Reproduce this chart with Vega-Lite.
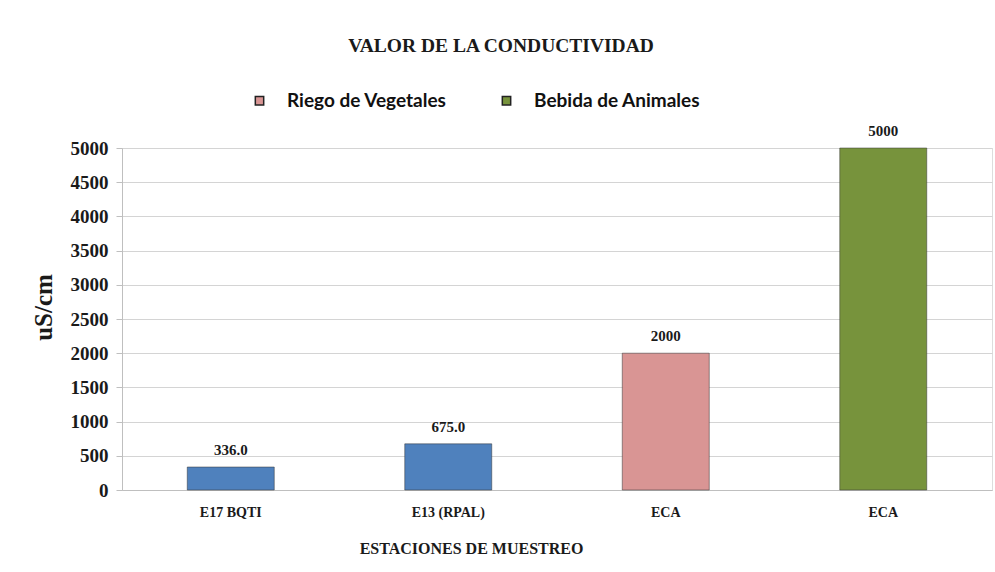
{
  "$schema": "https://vega.github.io/schema/vega-lite/v6.json",
  "width": 870,
  "height": 342,
  "autosize": {"type": "none"},
  "padding": {"left": 122, "top": 148, "right": 3, "bottom": 82},
  "background": "white",
  "title": {
    "text": "VALOR DE  LA CONDUCTIVIDAD",
    "font": "Liberation Serif",
    "fontSize": 19.5,
    "fontWeight": "bold",
    "color": "#1a1a1a",
    "anchor": "middle",
    "dx": -56,
    "offset": 35
  },
  "data": {
    "values": [
      {"estacion": "E17 BQTI", "valor": 336, "etiqueta": "336.0", "tipo": "Estación"},
      {"estacion": "E13 (RPAL)", "valor": 675, "etiqueta": "675.0", "tipo": "Estación"},
      {"estacion": "ECA (Riego)", "valor": 2000, "etiqueta": "2000", "tipo": "Riego de Vegetales"},
      {"estacion": "ECA (Bebida)", "valor": 5000, "etiqueta": "5000", "tipo": "Bebida de Animales"}
    ]
  },
  "encoding": {
    "x": {
      "field": "estacion",
      "type": "nominal",
      "sort": null,
      "scale": {"paddingInner": 0.6, "paddingOuter": 0.3},
      "axis": {
        "title": "ESTACIONES DE MUESTREO",
        "titleFont": "Liberation Serif",
        "titleFontSize": 16,
        "titleFontWeight": "bold",
        "titleColor": "#1a1a1a",
        "titleX": 349,
        "titleY": 58,
        "titleAlign": "center",
        "titleBaseline": "middle",
        "labelExpr": "indexof(datum.value, 'ECA') == 0 ? 'ECA' : datum.value",
        "labelAngle": 0,
        "labelFont": "Liberation Serif",
        "labelFontSize": 14,
        "labelFontWeight": "bold",
        "labelColor": "#1a1a1a",
        "labelPadding": 15,
        "ticks": false,
        "domainColor": "#bfbfbf",
        "grid": false
      }
    },
    "y": {
      "field": "valor",
      "type": "quantitative",
      "scale": {"domain": [0, 5000], "nice": false},
      "axis": {
        "title": "uS/cm",
        "titleFont": "Liberation Serif",
        "titleFontSize": 25,
        "titleFontWeight": "bold",
        "titleColor": "#1a1a1a",
        "titleAngle": -90,
        "titleX": -79,
        "titleY": 159,
        "titleAlign": "center",
        "titleBaseline": "middle",
        "values": [0, 500, 1000, 1500, 2000, 2500, 3000, 3500, 4000, 4500, 5000],
        "format": "d",
        "labelFont": "Liberation Serif",
        "labelFontSize": 19,
        "labelFontWeight": "bold",
        "labelColor": "#1a1a1a",
        "labelPadding": 8,
        "tickSize": 6,
        "tickColor": "#bfbfbf",
        "domainColor": "#bfbfbf",
        "grid": true,
        "gridColor": "#d4d4d4",
        "gridWidth": 1.2
      }
    }
  },
  "layer": [
    {
      "mark": {"type": "bar", "stroke": "#333333", "strokeOpacity": 0.5, "strokeWidth": 1},
      "encoding": {
        "color": {
          "field": "tipo",
          "type": "nominal",
          "scale": {
            "domain": ["Estación", "Riego de Vegetales", "Bebida de Animales"],
            "range": ["#4F81BD", "#D99594", "#77933C"]
          },
          "legend": {
            "values": ["Riego de Vegetales", "Bebida de Animales"],
            "title": null,
            "orient": "none",
            "direction": "horizontal",
            "legendX": 128,
            "legendY": -57,
            "symbolType": "square",
            "symbolSize": 70,
            "symbolStrokeColor": "#222",
            "symbolStrokeWidth": 1.5,
            "symbolOpacity": 1,
            "labelFont": "Lato",
            "labelFontSize": 19,
            "labelFontWeight": "bold",
            "labelColor": "#111",
            "labelLimit": 400,
            "labelOffset": 18,
            "columnPadding": 50
          }
        }
      }
    },
    {
      "mark": {
        "type": "text",
        "font": "Liberation Serif",
        "fontSize": 15,
        "fontWeight": "bold",
        "color": "#1a1a1a",
        "baseline": "bottom",
        "dy": -9
      },
      "encoding": {"text": {"field": "etiqueta", "type": "nominal"}}
    }
  ]
}
